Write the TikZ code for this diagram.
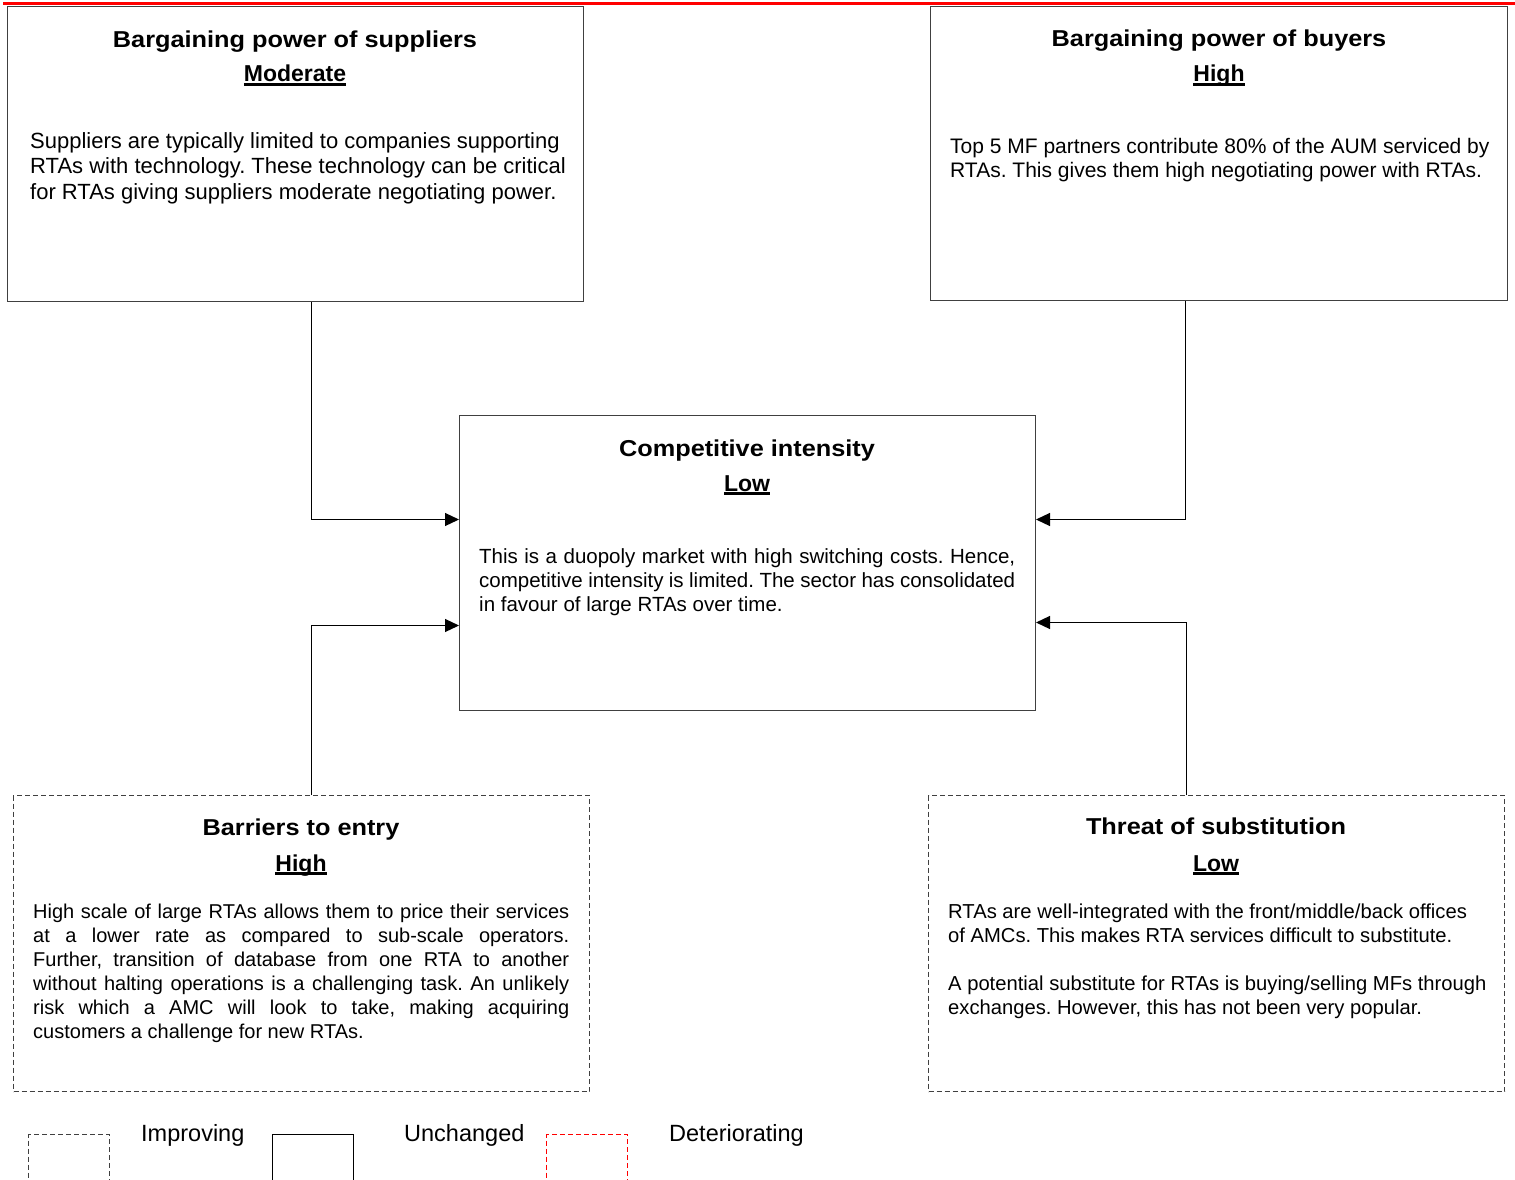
\documentclass[tikz,border=0pt]{standalone}
\usepackage{fontspec}
\setmainfont{Liberation Sans}
\newfontfamily\ttlfont{Liberation Sans}[FakeStretch=1.1]
\usetikzlibrary{arrows.meta}
\setlength\parindent{0pt}
\frenchspacing
\newcommand\myul[1]{\setbox0\hbox{#1}\leavevmode\rlap{\rule[-3.6pt]{\wd0}{2.2pt}}\box0}
\newcommand\jline[1]{\hbox to \hsize{\strut #1}}
\newcommand\pline[1]{\hbox{\strut #1}}
\definecolor{bordergray}{HTML}{404040}
\tikzset{
  box/.style={draw=bordergray, line width=1pt, minimum width=576pt, minimum height=295pt, anchor=north west, inner sep=0pt},
  dbox/.style={box, dash pattern=on 5pt off 3pt},
  ttl/.style={font=\ttlfont\fontsize{23}{28}\selectfont\bfseries, inner sep=0pt, anchor=base},
  lvl/.style={font=\fontsize{23}{28}\selectfont\bfseries, inner sep=0pt, anchor=base},
  body/.style={inner sep=0pt, anchor=north west},
  arr/.style={draw=black, line width=1.2pt, -{Triangle[length=14pt,width=13pt]}},
  legtxt/.style={font=\fontsize{23.5}{28}\selectfont, inner sep=0pt, anchor=base west},
  legbox/.style={line width=1pt, minimum width=81pt, minimum height=80pt, anchor=north west, inner sep=0pt},
}
\begin{document}
\begin{tikzpicture}[x=1pt,y=-1pt]
\useasboundingbox (0,0) rectangle (1515,1180);
\clip (0,0) rectangle (1515,1180);
% top red rule
\draw[red, line width=3.4pt] (3,3.4) -- (1515,3.4);

% boxes
\node[box] (sup) at (7,6) {};
\node[box, minimum width=577pt, minimum height=294pt] (buy) at (930,6) {};
\node[box] (ci) at (459,415) {};
\node[dbox, minimum height=296pt] (bar) at (13,795) {};
\node[dbox, minimum height=296pt] (sub) at (928,795) {};

% suppliers
\node[ttl] (supt) at (295,47.5) {Bargaining power of suppliers};
\node[lvl] (supl) at (295,82) {\myul{Moderate}};
\node[body] (supb) at (30,130.15) {\fontsize{22}{25.5}\selectfont\vtop{\hsize=530pt
\pline{Suppliers are typically limited to companies supporting}
\pline{RTAs with technology. These technology can be critical}
\pline{for RTAs giving suppliers moderate negotiating power.}}};

% buyers
\node[ttl] (buyt) at (1219,46.5) {Bargaining power of buyers};
\node[lvl] (buyl) at (1219,82) {\myul{High}};
\node[body] (buyb) at (950,136.2) {\fontsize{21}{24}\selectfont\vtop{\hsize=539pt
\pline{Top 5 MF partners contribute 80\% of the AUM serviced by}
\pline{RTAs. This gives them high negotiating power with RTAs.}}};

% competitive intensity
\node[ttl] (cit) at (747,456.5) {Competitive intensity};
\node[lvl] (cil) at (747,491) {\myul{Low}};
\node[body] (cib) at (479,546.2) {\fontsize{20.5}{24}\selectfont\vtop{\hsize=536pt
\jline{This is a duopoly market with high switching costs. Hence,}
\jline{competitive intensity is limited. The sector has consolidated}
\pline{in favour of large RTAs over time.}}};

% barriers
\node[ttl] (bart) at (301,835.5) {Barriers to entry};
\node[lvl] (barl) at (301,871) {\myul{High}};
\node[body] (barb) at (33,901.2) {\fontsize{20}{24}\selectfont\vtop{\hsize=536pt
\jline{High scale of large RTAs allows them to price their services}
\jline{at a lower rate as compared to sub-scale operators.}
\jline{Further, transition of database from one RTA to another}
\jline{without halting operations is a challenging task. An unlikely}
\jline{risk which a AMC will look to take, making acquiring}
\pline{customers a challenge for new RTAs.}}};

% substitution
\node[ttl] (subt) at (1216,834.5) {Threat of substitution};
\node[lvl] (subl) at (1216,871) {\myul{Low}};
\node[body] (subb) at (948,901.2) {\fontsize{20.2}{24}\selectfont\vtop{\hsize=538pt
\pline{RTAs are well-integrated with the front/middle/back offices}
\pline{of AMCs. This makes RTA services difficult to substitute.}
\pline{}
\pline{A potential substitute for RTAs is buying/selling MFs through}
\pline{exchanges. However, this has not been very popular.}}};

% connectors
\draw[arr] ([xshift=16pt]sup.south) |- ([yshift=43.5pt]ci.west);
\draw[arr] ([xshift=-33.5pt]buy.south) |- ([yshift=43.5pt]ci.east);
\draw[arr] ([xshift=10pt]bar.north) |- ([yshift=-62.5pt]ci.west);
\draw[arr] ([xshift=-30pt]sub.north) |- ([yshift=-59.5pt]ci.east);

% legend
\node[legbox, draw=bordergray, dash pattern=on 5pt off 3pt] (legimp) at (28,1134) {};
\node[legtxt] (legimpt) at (141,1141) {Improving};
\node[legbox, draw=black] (legunc) at (272,1134) {};
\node[legtxt] (legunct) at (404,1141) {Unchanged};
\node[legbox, draw=red, dash pattern=on 5pt off 3pt] (legdet) at (546,1134) {};
\node[legtxt] (legdett) at (669,1141) {Deteriorating};
\end{tikzpicture}
\end{document}
